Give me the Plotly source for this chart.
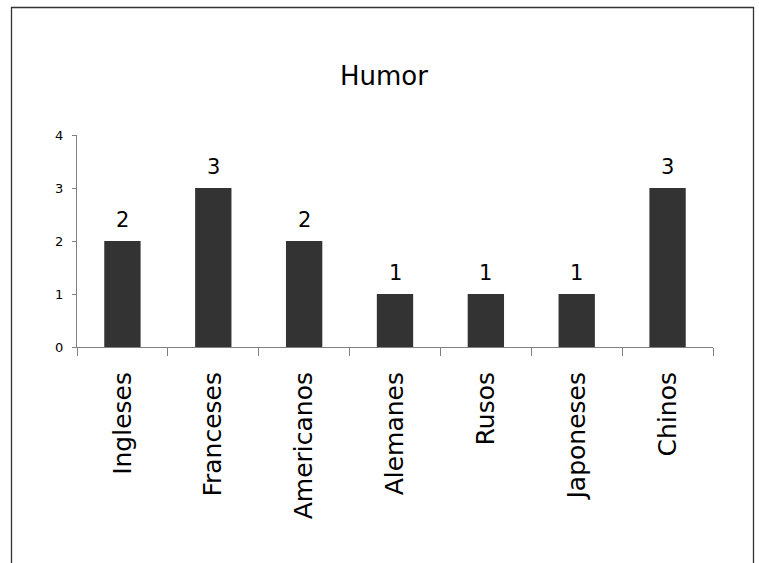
import plotly.graph_objects as go

categories = ["Ingleses", "Franceses", "Americanos", "Alemanes", "Rusos", "Japoneses", "Chinos"]
values = [2, 3, 2, 1, 1, 1, 3]
y_ticks = [0, 1, 2, 3, 4]
title_text = "Humor"

W, H = 759, 563
L, R, T, B = 77, 46, 135, 216
pw, ph = W - L - R, H - T - B

fig = go.Figure()
fig.add_trace(go.Bar(
    x=categories, y=values,
    marker=dict(color="#333333", line=dict(width=0)),
    width=0.4,
    hoverinfo="x+y",
))

for c, v in zip(categories, values):
    fig.add_annotation(
        x=c, y=v, text=str(v), showarrow=False,
        yanchor="bottom", yshift=7,
        font=dict(family="DejaVu Sans", size=21, color="#000000"),
    )

# outer border box
fig.add_shape(
    type="rect", xref="paper", yref="paper",
    x0=(11.5 - L) / pw, x1=(753.5 - L) / pw,
    y0=(T + ph - 600) / ph, y1=(T + ph - 7.5) / ph,
    line=dict(color="#333333", width=1.3), fillcolor="rgba(0,0,0,0)",
    layer="below",
)

fig.update_layout(
    width=W, height=H,
    margin=dict(l=L, r=R, t=T, b=B, autoexpand=False),
    paper_bgcolor="white", plot_bgcolor="white",
    showlegend=False,
    title=dict(
        text=title_text, x=384 / W, xanchor="center",
        y=1 - 76 / H, yanchor="middle",
        font=dict(family="DejaVu Sans", size=26, color="#000000"),
    ),
    font=dict(family="DejaVu Sans", color="#000000"),
)

fig.update_xaxes(
    type="category", range=[-0.5, len(categories) - 0.5],
    showline=True, linecolor="#808080", linewidth=1,
    ticks="outside", tickson="boundaries", ticklen=8, tickcolor="#808080", tickwidth=1,
    tickangle=-90, tickfont=dict(family="DejaVu Sans", size=25, color="#000000"),
    ticklabelstandoff=14,
    showgrid=False, zeroline=False, fixedrange=True,
)
fig.update_yaxes(
    range=[0, 4], tickvals=y_ticks,
    showline=True, linecolor="#808080", linewidth=1,
    ticks="outside", ticklen=4, tickcolor="#808080", tickwidth=1,
    tickfont=dict(family="DejaVu Sans", size=13, color="#000000"),
    ticklabelstandoff=6,
    showgrid=False, zeroline=False, fixedrange=True,
)

fig.write_html(
    "out.html",
    config={"displayModeBar": False},
    post_script="document.body.style.margin='0px';document.body.style.overflow='hidden';",
)
